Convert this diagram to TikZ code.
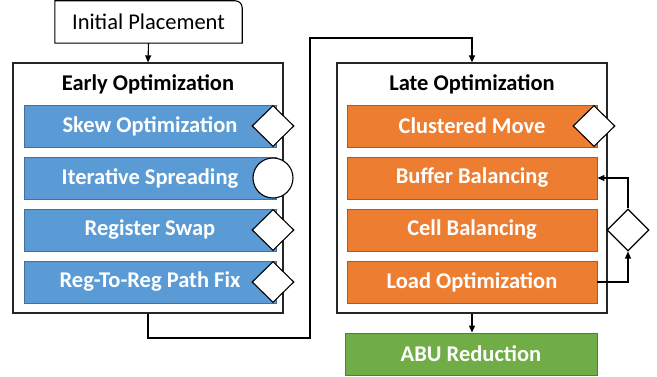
\documentclass[tikz,border=0pt]{standalone}
\usepackage{fontspec}
\setmainfont{Carlito}
\usetikzlibrary{arrows.meta,shapes.geometric}
\definecolor{bblue}{HTML}{5B9BD5}
\definecolor{bblueedge}{HTML}{41719C}
\definecolor{borange}{HTML}{ED7D31}
\definecolor{borangeedge}{HTML}{AE5A21}
\definecolor{bgreen}{HTML}{70AD47}
\definecolor{bgreenedge}{HTML}{507E32}
\begin{document}
\begin{tikzpicture}[x=1pt,y=-1pt,
  frame/.style={draw=black!85, line width=1.2pt, fill=white},
  bar/.style={minimum width=252pt, minimum height=42pt, inner sep=0pt, line width=0.9pt,
    text=white, font=\bfseries\fontsize{22.5}{26}\selectfont},
  bluebar/.style={bar, fill=bblue, draw=bblueedge},
  orangebar/.style={bar, fill=borange, draw=borangeedge, minimum width=250pt},
  greenbar/.style={bar, fill=bgreen, draw=bgreenedge},
  dia/.style={diamond, draw=black, fill=white, line width=1.1pt, minimum width=42pt, minimum height=41pt, inner sep=0pt},
  circ/.style={circle, draw=black, fill=white, line width=1.1pt, minimum size=40pt, inner sep=0pt},
  title/.style={font=\bfseries\fontsize{22.5}{26}\selectfont, text=black},
  arr/.style={draw=black, line width=1.1pt, -{Triangle[length=7pt,width=6pt]}},
  conn/.style={draw=black, line width=1.1pt}]
\useasboundingbox (0,0) rectangle (657,377);

% Initial placement
\node[minimum width=187pt, minimum height=42pt, inner sep=0pt, font=\fontsize{22.5}{26}\selectfont] (init) at (148.5,22) {Initial Placement};
\draw[line width=1.1pt, draw=black] (init.south west) -- (init.north west) -- ([xshift=-7pt]init.north east)
  arc[start angle=-90, end angle=0, radius=7] -- (init.south east) -- cycle;

% Early optimization
\node[frame, minimum width=270pt, minimum height=250pt, inner sep=0pt] (early) at (148,188) {};
\node[title] (etitle) at (148,84) {Early Optimization};
\node[bluebar] (skew) at (150,126) {Skew Optimization};
\node[bluebar] (iter) at (150,178) {Iterative Spreading};
\node[bluebar] (reg) at (150,230) {Register Swap};
\node[bluebar] (r2r) at (150,282) {Reg-To-Reg Path Fix};
\node[dia] (d1) at (273,126) {};
\node[circ] (c1) at (273,178) {};
\node[dia] (d2) at (273,230) {};
\node[dia] (d3) at (273,282) {};

% Late optimization
\node[frame, minimum width=270pt, minimum height=250pt, inner sep=0pt] (late) at (472,188) {};
\node[title] (ltitle) at (472,84) {Late Optimization};
\node[orangebar] (clus) at (472,126) {Clustered Move};
\node[orangebar] (buf) at (472,178) {Buffer Balancing};
\node[orangebar] (cell) at (472,230) {Cell Balancing};
\node[orangebar] (load) at (472,282) {Load Optimization};
\node[dia] (d4) at (594,126) {};
\node[dia, minimum height=42pt] (rd) at (628,230) {};

% ABU
\node[greenbar] (abu) at (471,354) {ABU Reduction};

% connectors
\draw[arr] (init.south) -- (early.north);
\coordinate (p1) at (148,338);
\coordinate (p2) at (310,338);
\coordinate (p3) at (310,38);
\coordinate (p4) at (472,38);
\draw[arr] (early.south) -- (p1) -- (p2) -- (p3) -- (p4) -- (late.north);
\draw[arr] (load.east) -| (rd.south);
\draw[arr] (rd.north) |- (buf.east);
\draw[arr] (late.south) -- (late.south |- abu.north);
\end{tikzpicture}
\end{document}
